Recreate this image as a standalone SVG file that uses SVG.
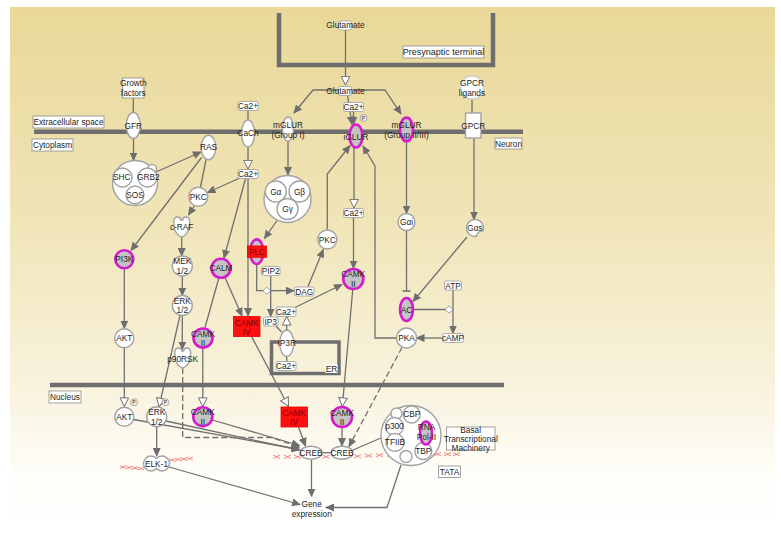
<svg xmlns="http://www.w3.org/2000/svg" width="781" height="545" viewBox="0 0 781 545">
<defs>
<linearGradient id="bg" x1="0" y1="0" x2="0" y2="1">
<stop offset="0" stop-color="#e9d898"/>
<stop offset="0.45" stop-color="#f1e6bb"/>
<stop offset="0.72" stop-color="#f8f2dc"/>
<stop offset="0.9" stop-color="#fefdf8"/>
<stop offset="1" stop-color="#ffffff"/>
</linearGradient>
<marker id="a" viewBox="0 0 9 8" markerWidth="9" markerHeight="8" refX="8" refY="4" orient="auto" markerUnits="userSpaceOnUse"><path d="M0,0 L9,4 L0,8 Z" fill="#6e6e6e"/></marker>
<marker id="o" viewBox="0 0 10 10" markerWidth="10" markerHeight="10" refX="9.3" refY="5" orient="auto" markerUnits="userSpaceOnUse"><path d="M0.7,0.7 L9.3,5 L0.7,9.3 Z" fill="#fff" stroke="#707070" stroke-width="1"/></marker>
<marker id="t" viewBox="0 0 3 10" markerWidth="3" markerHeight="10" refX="1.5" refY="5" orient="auto" markerUnits="userSpaceOnUse"><path d="M1.5,1 V9" stroke="#6e6e6e" stroke-width="1.5"/></marker>
<style>
.ln{fill:none;stroke:#707070;stroke-width:1.3}
.da{stroke-dasharray:6 3}
.n{fill:#fff;stroke:#a2a2a2;stroke-width:1.4}
.m{fill:#c4c4c4;stroke:#d41ccc;stroke-width:2.6}
.r{fill:#ff1010;stroke:#e00000;stroke-width:0.8}
.c{fill:#fff;stroke:#9a9a9a;stroke-width:0.8}
.b{fill:#fff;stroke:#8c8c8c;stroke-width:0.8}
.mem{fill:none;stroke:#6e6e6e;stroke-width:4.5}
.x{stroke:#ef7a7a;stroke-width:0.9;fill:none}
text{font-family:"Liberation Sans",Arial,sans-serif;font-size:8.3px;fill:#1e1e1e;text-anchor:middle}
.tr{fill:#800000}
.p{fill:#f4f0e0;stroke:#8c8c8c;stroke-width:0.7}
</style>
</defs>

<rect x="10" y="7" width="765" height="518" fill="url(#bg)"/>

<g id="compartments">
<path class="mem" d="M279,13 V65 H493 V13"/>
<path class="mem" d="M34,131.8 H523"/>
<path class="mem" d="M50,385 H504"/>
<rect x="271.5" y="342" width="67.5" height="31.5" fill="none" stroke="#6e6e6e" stroke-width="3.5"/>
</g>

<g id="labels">
<g id="lbl-presyn"><rect class="b" x="403" y="46" width="81" height="12"/><text x="443.5" y="55.2" style="font-size:9px">Presynaptic terminal</text></g>
<g id="lbl-extra"><rect class="b" x="33" y="116" width="71" height="12"/><text x="68.5" y="125">Extracellular space</text></g>
<g id="lbl-cyto"><rect class="b" x="32" y="139" width="41" height="12"/><text x="52.5" y="148">Cytoplasm</text></g>
<g id="lbl-neuron"><rect class="b" x="495" y="138" width="27" height="11"/><text x="508.5" y="146.5">Neuron</text></g>
<g id="lbl-nucleus"><rect class="b" x="49" y="391" width="32" height="12"/><text x="65" y="400">Nucleus</text></g>
<g id="lbl-er"><rect x="325.5" y="364.5" width="12" height="8.5" fill="#fff"/><text x="331.5" y="372">ER</text></g>
<g id="lbl-basal"><rect class="b" x="446.5" y="427" width="48.5" height="23"/><text x="470.7" y="432.5">Basal</text><text x="470.7" y="441.5">Transcriptional</text><text x="470.7" y="450.5">Machinery</text></g>
<g id="lbl-tata"><rect class="b" x="438.5" y="466" width="22" height="11.5"/><text x="449.5" y="475">TATA</text></g>
</g>

<g id="dna">
<path class="x" d="M120,465.5 l6,3 M120,468.5 l6,-3 M126,466 l6,3 M126,469 l6,-3 M132,466.5 l6,3 M132,469.5 l6,-3 M138,467 l6,3 M138,470 l6,-3"/>
<path class="x" d="M169,461.5 l6,-3 M169,458.5 l6,3 M175,461 l6,-3 M175,458 l6,3 M181,460.5 l6,-3 M181,457.5 l6,3 M187,460 l6,-3 M187,457 l6,3"/>
<path class="x" d="M273,455 l7,3.5 M273,458.5 l7,-3.5 M284,455 l7,3.5 M284,458.5 l7,-3.5 M294,455 l7,3.5 M294,458.5 l7,-3.5 M322.5,455 l7,3.5 M322.5,458.5 l7,-3.5 M354,454.5 l7,3.5 M354,458 l7,-3.5 M365,454 l7,3.5 M365,457.5 l7,-3.5 M376,453.5 l7,3.5 M376,457 l7,-3.5 M387,453 l7,3.5 M387,456.5 l7,-3.5 M434,452.5 l7,3.5 M434,456 l7,-3.5 M444,452.5 l7,3.5 M444,456 l7,-3.5 M453,452.5 l7,3.5 M453,456 l7,-3.5"/>
</g>

<g id="connectors">
<path class="ln" d="M345.5,30 V85" marker-end="url(#o)"/>
<path class="ln" d="M338,90 H313 L294,113" marker-end="url(#a)"/>
<path class="ln" d="M353,90 H385 L401,114" marker-end="url(#a)"/>
<path class="ln" d="M347.5,95 L352,124.5" marker-end="url(#a)"/>
<path class="ln" d="M353.5,111.5 V124.5" marker-end="url(#a)"/>
<path class="ln" d="M248,110.5 V120.5"/>
<path class="ln" d="M248,147 V169" marker-end="url(#o)"/>
<path class="ln" d="M241,177.5 L207.5,192.5" marker-end="url(#a)"/>
<path class="ln" d="M245.5,178.5 L224,258" marker-end="url(#a)"/>
<path class="ln" d="M248,178.5 V316" marker-end="url(#a)"/>
<path class="ln" d="M288,141.5 V175" marker-end="url(#a)"/>
<path class="ln" d="M277,220.5 L264.5,238.5" marker-end="url(#a)"/>
<path class="ln" d="M354,148 V208" marker-end="url(#o)"/>
<path class="ln" d="M353.5,217.5 V268.5" marker-end="url(#a)"/>
<path class="ln" d="M327.3,229.5 V174 L350,145.5" marker-end="url(#a)"/>
<path class="ln" d="M396.5,338 H375 V166 L363,146" marker-end="url(#a)"/>
<path class="ln" d="M406.5,142 V213.5" marker-end="url(#a)"/>
<path class="ln" d="M406.5,231 V291" marker-end="url(#t)"/>
<path class="ln" d="M472,99 V113"/>
<path class="ln" d="M474,138.5 V219.5" marker-end="url(#a)"/>
<path class="ln" d="M467,237 L413,301.5" marker-end="url(#a)"/>
<path class="ln" d="M413,309.5 H446"/>
<path class="ln" d="M453,290 V333.5" marker-end="url(#a)"/>
<path class="ln" d="M442.5,338 H416.5" marker-end="url(#a)"/>
<path class="ln" d="M133.3,98 V112.5"/>
<path class="ln" d="M133.5,138.5 V160.5" marker-end="url(#a)"/>
<path class="ln" d="M156,172 L201,152" marker-end="url(#a)"/>
<path class="ln" d="M201.5,157.5 L131,250.5" marker-end="url(#a)"/>
<path class="ln" d="M206,160 L200.5,187"/>
<path class="ln" d="M195,205 L188.5,215" marker-end="url(#a)"/>
<path class="ln" d="M181.7,236 V256" marker-end="url(#a)"/>
<path class="ln" d="M182.3,276 V295.5" marker-end="url(#a)"/>
<path class="ln" d="M182.3,315.5 V349.5" marker-end="url(#a)"/>
<path class="ln" d="M124.3,268.5 V328.5" marker-end="url(#a)"/>
<path class="ln" d="M225,277.5 L242,316" marker-end="url(#a)"/>
<path class="ln" d="M219,277.5 L205,327.5"/>
<path class="ln" d="M256.7,264 V290.7 H294" marker-end="url(#a)"/>
<path class="ln" d="M270.7,275.5 V316.5" marker-end="url(#a)"/>
<path class="ln" d="M308,286.5 L323.3,249.5" marker-end="url(#a)"/>
<path class="ln" d="M295,307.5 L342,284.5" marker-end="url(#a)"/>
<path class="ln" d="M286.7,330.5 V316.5" marker-end="url(#o)"/>
<path class="ln" d="M276,326 L281.5,332"/>
<path class="ln" d="M286.7,356.3 V361.5"/>
<path class="ln" d="M124.3,348 V406.5" marker-end="url(#o)"/>
<path class="ln" d="M180,315.5 L159,406.8" marker-end="url(#o)"/>
<path class="ln" d="M202.8,347.5 V406.5" marker-end="url(#o)"/>
<path class="ln" d="M251.5,336.5 L288.5,406.5" marker-end="url(#o)"/>
<path class="ln" d="M352.8,289 L342.3,406.5" marker-end="url(#o)"/>
<path class="ln da" d="M182.7,368 V437.5 H272 L299.5,447.5" marker-end="url(#a)"/>
<path class="ln" d="M133.5,419.5 L299.5,449.5" marker-end="url(#a)"/>
<path class="ln" d="M166,421 L299.5,450" marker-end="url(#a)"/>
<path class="ln" d="M212.5,420 L299.5,445.5" marker-end="url(#a)"/>
<path class="ln" d="M298.5,427 L305.5,446" marker-end="url(#a)"/>
<path class="ln" d="M342,427 V446" marker-end="url(#a)"/>
<path class="ln da" d="M402,347.5 L349,446.5" marker-end="url(#a)"/>
<path class="ln" d="M382,437.5 L353,450"/>
<path class="ln" d="M322,452.7 H331"/>
<path class="ln" d="M311.5,459.5 V496.5" marker-end="url(#a)"/>
<path class="ln" d="M156.7,426.5 V456" marker-end="url(#a)"/>
<path class="ln" d="M169,467 L300,504.5" marker-end="url(#a)"/>
<path class="ln" d="M401,465 L387,507.5 H326" marker-end="url(#a)"/>
</g>

<g id="nodes">
<g id="glu1"><rect class="c" x="338.5" y="21" width="13" height="9" rx="2"/><text x="345.5" y="28">Glutamate</text></g>
<g id="glu2"><rect class="c" x="338.5" y="86.5" width="13" height="9" rx="2"/><text x="345.5" y="94">Glutamate</text></g>
<g id="ca-top-ig"><rect class="c" x="343.5" y="102.5" width="20" height="9" rx="2"/><text x="353.5" y="110">Ca2+</text></g>
<g id="p-iglur"><circle class="p" cx="363.5" cy="118" r="3.5"/><text x="363.5" y="120" style="font-size:5px">P</text></g>
<g id="ca-top-cach"><rect class="c" x="238" y="101.5" width="20" height="9" rx="2"/><text x="248" y="109">Ca2+</text></g>
<g id="growth"><rect class="b" x="122.5" y="78" width="21.5" height="20"/><text x="133.3" y="86.3">Growth</text><text x="133.3" y="96">factors</text></g>
<g id="gfr"><ellipse class="n" cx="133.3" cy="125.5" rx="7" ry="13"/><text x="133.3" y="128.5">GFR</text></g>
<g id="cach"><ellipse class="n" cx="248" cy="133.5" rx="6.5" ry="13.5"/><text x="248" y="135.8">CaCh</text></g>
<g id="mglur1"><ellipse class="n" cx="288" cy="129" rx="5.5" ry="12"/><text x="288" y="128">mGLUR</text><text x="288" y="138">(Group I)</text></g>
<g id="iglur"><ellipse class="m" cx="356" cy="136" rx="6.5" ry="11.5"/><text x="356" y="139.7">iGLUR</text></g>
<g id="mglur23"><ellipse class="m" cx="406.5" cy="129.5" rx="6.5" ry="12"/><text x="406.5" y="128">mGLUR</text><text x="406.5" y="138">(Group II/III)</text></g>
<g id="gpcr-lig"><circle class="n" cx="472" cy="87.5" r="11.5" style="stroke:#cfcfcf"/><text x="472" y="86">GPCR</text><text x="472" y="96">ligands</text></g>
<g id="gpcr"><rect class="n" x="465.5" y="113" width="15.5" height="25"/><text x="473.2" y="129">GPCR</text></g>
<g id="shc-complex"><circle class="n" cx="135" cy="183" r="22.5"/><circle class="n" cx="152" cy="169" r="4.5"/><circle class="n" cx="122.5" cy="177.5" r="9.5"/><circle class="n" cx="147.5" cy="177.5" r="9.5"/><circle class="n" cx="135" cy="195" r="9"/><text x="121.7" y="180.3">SHC</text><text x="148.3" y="179.7">GRB2</text><text x="135" y="198">SOS</text></g>
<g id="ras"><ellipse class="n" cx="208.5" cy="147.5" rx="7.3" ry="12.3"/><text x="208.5" y="150.3">RAS</text></g>
<g id="ca-cyt"><rect class="c" x="238" y="169.5" width="20" height="9" rx="2"/><text x="248" y="177">Ca2+</text></g>
<g id="pkc1"><circle class="n" cx="198.3" cy="196.7" r="9.5"/><text x="198.3" y="199.7">PKC</text></g>
<g id="craf"><path class="n" transform="translate(181.7,227)" d="M-8,-5 Q-8,-10 -4,-10 Q-1,-10 -1,-7 L1,-7 Q1,-10 4,-10 Q8,-10 8,-5 L7,3 Q4,9 0,10 Q-4,9 -7,3 Z"/><text x="181.7" y="230">c-RAF</text></g>
<g id="mek"><circle class="n" cx="182.3" cy="266" r="10"/><text x="182.3" y="264">MEK</text><text x="182.3" y="273.5">1/2</text></g>
<g id="erk1"><circle class="n" cx="182.3" cy="305.5" r="10"/><text x="182.3" y="303.5">ERK</text><text x="182.3" y="313.2">1/2</text></g>
<g id="p90rsk"><path class="n" transform="translate(182.7,358)" d="M-8,-5 Q-8,-10 -4,-10 Q-1,-10 -1,-7 L1,-7 Q1,-10 4,-10 Q8,-10 8,-5 L7,3 Q4,9 0,10 Q-4,9 -7,3 Z"/><text x="182.7" y="361.5">p90RSK</text></g>
<g id="pi3k"><circle class="m" cx="124.3" cy="259.3" r="9"/><text x="124.3" y="262.3">PI3K</text></g>
<g id="akt1"><circle class="n" cx="124.3" cy="338.3" r="9.5"/><text x="124.3" y="341.3">AKT</text></g>
<g id="calm"><circle class="m" cx="221" cy="268.3" r="9.5"/><text x="221" y="271.3">CALM</text></g>
<g id="camk2-a"><circle class="m" cx="203" cy="338" r="9.5"/><text x="203" y="336.5">CAMK</text><text x="203" y="346">II</text></g>
<g id="camk4-a"><rect class="r" x="233.5" y="316.5" width="26.5" height="20"/><text class="tr" x="246.7" y="325.7">CAMK</text><text class="tr" x="246.7" y="334.7">IV</text></g>
<g id="gprot"><circle class="n" cx="287.5" cy="199" r="23.5"/><circle class="n" cx="275.8" cy="191.5" r="10.5"/><circle class="n" cx="299.5" cy="191.5" r="10.5"/><circle class="n" cx="287.5" cy="209" r="10.5"/><text x="275.8" y="194.7">Gα</text><text x="299.5" y="194.7">Gβ</text><text x="287.5" y="212">Gγ</text></g>
<g id="plc"><ellipse class="m" cx="256.7" cy="251.7" rx="6.7" ry="12.3"/><rect class="r" x="247.5" y="246" width="19" height="11.3"/><text class="tr" x="257" y="254.7">PLC</text></g>
<g id="pip2"><rect class="c" x="261.5" y="266.5" width="18.5" height="9" rx="2"/><text x="270.7" y="274">PIP2</text></g>
<g id="dag-dia"><polygon points="262.7,290.7 266.7,287.2 270.7,290.7 266.7,294.2" fill="#fff" stroke="#8a8a8a" stroke-width="0.8"/></g>
<g id="dag"><rect class="c" x="294.5" y="287" width="19.5" height="9" rx="2"/><text x="304.2" y="294.5">DAG</text></g>
<g id="pkc2"><circle class="n" cx="327.3" cy="239.5" r="9.5"/><text x="327.3" y="242.5">PKC</text></g>
<g id="ca-ig2"><rect class="c" x="343.5" y="208.5" width="20" height="9" rx="2"/><text x="353.5" y="216">Ca2+</text></g>
<g id="camk2-b"><circle class="m" cx="353.3" cy="279" r="10"/><text x="353.3" y="277">CAMK</text><text x="353.3" y="286.8">II</text></g>
<g id="ca-er"><rect class="c" x="276" y="307" width="20" height="9.5" rx="2"/><text x="286" y="314.7">Ca2+</text></g>
<g id="ip3"><rect class="c" x="263.5" y="317" width="14.5" height="9" rx="2"/><text x="270.7" y="324.7">IP3</text></g>
<g id="ip3r"><ellipse class="n" cx="286.7" cy="343.3" rx="7" ry="13"/><text x="286.7" y="346.3">IP3R</text></g>
<g id="ca-er-in"><rect class="c" x="276" y="361.5" width="20" height="9" rx="2"/><text x="286" y="369">Ca2+</text></g>
<g id="gai"><circle class="n" cx="406.5" cy="222" r="8.5"/><text x="406.5" y="225">Gαi</text></g>
<g id="gas"><path class="n" d="M483,230.9 A8.5,8.5 0 1 0 476.5,236.4 A6,6 0 0 1 483,230.9 Z"/><text x="475" y="231.3">Gαs</text></g>
<g id="ac"><ellipse class="m" cx="406.5" cy="309.5" rx="6.5" ry="11.5"/><text x="406.5" y="312.5">AC</text></g>
<g id="ac-dia"><polygon points="445,309.5 449,306 453,309.5 449,313" fill="#fff" stroke="#8a8a8a" stroke-width="0.8"/></g>
<g id="atp"><rect class="c" x="444.5" y="281" width="17" height="9" rx="2"/><text x="453" y="288.5">ATP</text></g>
<g id="camp"><rect class="c" x="442.5" y="333.5" width="21" height="9" rx="2"/><text x="453" y="341">cAMP</text></g>
<g id="pka"><circle class="n" cx="406.5" cy="338" r="10"/><text x="406.5" y="341">PKA</text></g>
<g id="akt2"><circle class="n" cx="124.3" cy="416.7" r="9.5"/><text x="124.3" y="419.7">AKT</text></g>
<g id="p-akt"><circle class="p" cx="134" cy="402.3" r="3.5"/><text x="134" y="404.3" style="font-size:5px">P</text></g>
<g id="erk2"><circle class="n" cx="156.7" cy="416.7" r="10"/><text x="156.7" y="415">ERK</text><text x="156.7" y="424.8">1/2</text></g>
<g id="p-erk"><circle class="p" cx="165.5" cy="402.3" r="3.5"/><text x="165.5" y="404.3" style="font-size:5px">P</text></g>
<g id="camk2-c"><circle class="m" cx="202.8" cy="416.7" r="9.5"/><text x="202.8" y="415">CAMK</text><text x="202.8" y="424.6">II</text></g>
<g id="camk4-b"><rect class="r" x="281" y="407" width="26.5" height="20"/><text class="tr" x="294.2" y="415.7">CAMK</text><text class="tr" x="294.2" y="425.3">IV</text></g>
<g id="camk2-d"><circle class="m" cx="342" cy="417" r="10"/><text x="342" y="415.5">CAMK</text><text x="342" y="425.3">II</text></g>
<g id="creb1"><ellipse class="n" cx="311" cy="452.7" rx="11" ry="6.5"/><text x="311" y="455.7">CREB</text></g>
<g id="creb2"><ellipse class="n" cx="342" cy="452.7" rx="11" ry="6.5"/><text x="342" y="455.7">CREB</text></g>
<g id="btm-complex"><circle class="n" cx="411" cy="435.5" r="30"/><circle class="n" cx="396.5" cy="413.5" r="5.5"/><circle class="n" cx="406" cy="456.5" r="6"/><circle class="n" cx="411.7" cy="414.5" r="8.5"/><circle class="n" cx="394.5" cy="426.5" r="9"/><circle class="n" cx="395" cy="442.5" r="9"/><circle class="n" cx="423.3" cy="451" r="8.5"/><ellipse class="m" cx="426" cy="433" rx="6" ry="11.5"/><text x="411.7" y="417.3">CBP</text><text x="394.5" y="429">p300</text><text x="395" y="444.7">TFIIB</text><text x="423.3" y="453.7">TBP</text><text x="426.5" y="430.3">RNA</text><text x="426.5" y="440.3">Pol-II</text></g>
<g id="elk1"><path class="n" d="M156.5,458.4 A7.5,7.5 0 1 1 156.5,468.6 A7.5,7.5 0 1 1 156.5,458.4 Z"/><text x="156.5" y="466.5">ELK-1</text></g>
<g id="gene"><ellipse cx="311.7" cy="503" rx="9" ry="6" fill="#fff" stroke="#e2e2e2" stroke-width="0.8"/><text x="311.7" y="506.5">Gene</text><text x="311.7" y="516.5">expression</text></g>
</g>
</svg>
